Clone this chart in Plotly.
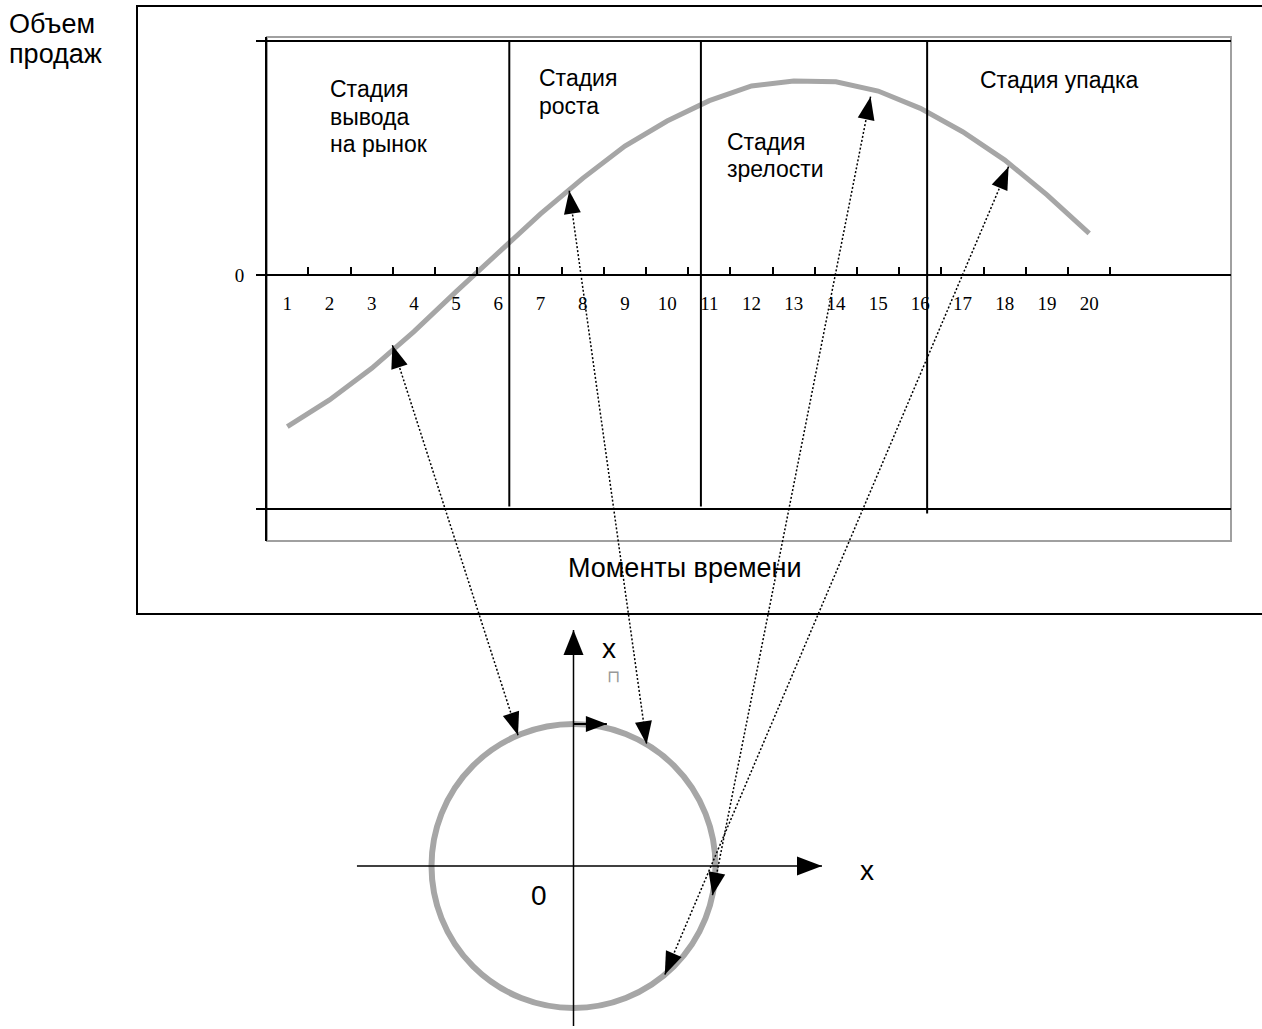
import math
import plotly.graph_objects as go

W, H = 1262, 1029

# ---------------- data ----------------
periods = list(range(1, 21))
sales = [-0.648, -0.534, -0.399, -0.242, -0.071, 0.093, 0.261, 0.413, 0.551, 0.658,
         0.745, 0.808, 0.829, 0.826, 0.786, 0.712, 0.612, 0.491, 0.342, 0.178]
tick_labels = [str(p) for p in periods]
y_tick_vals = [-1, 0, 1]
y_tick_text = ["", "0", ""]

stage_bounds = [6.26, 10.80, 16.16]
stage_bound_bottom = [-0.99, -0.99, -1.02]
stage_lines = [["Стадия", "вывода", "на рынок"], ["Стадия", "роста"],
               ["Стадия", "зрелости"], ["Стадия упадка"]]
stage_text_x = [1.97, 6.91, 11.38, 17.37]
stage_text_y = [0.794, 0.841, 0.570, 0.833]

# links between points on the sales curve and points on the circle
link_curve_x = [3.49, 7.68, 14.82, 18.09]
link_curve_y = [-0.30, 0.36, 0.762, 0.463]
link_circle_deg = [113, 59, -12, -50]

# ---------------- layout geometry ----------------
XD = [267 / W, 1231 / W]
YD = [1 - 541 / H, 1 - 37 / H]
XR = [0.519, 23.36]
YR = [-1.137, 1.017]

CX, CY, CR = 573.5, 866.0, 142.0
X2R = [-CX / CR, (W - CX) / CR]
Y2R = [-(H - CY) / CR, CY / CR]


def top_to_circle(x, y):
    fx = XD[0] + (x - XR[0]) / (XR[1] - XR[0]) * (XD[1] - XD[0])
    fy = YD[0] + (y - YR[0]) / (YR[1] - YR[0]) * (YD[1] - YD[0])
    return X2R[0] + fx * (X2R[1] - X2R[0]), Y2R[0] + fy * (Y2R[1] - Y2R[0])


def head_shape(tip, tail, length_px, width_px):
    """filled triangular arrowhead (x2/y2 units are CR pixels each)"""
    dx, dy = tip[0] - tail[0], tip[1] - tail[1]
    n = math.hypot(dx, dy)
    dx, dy = dx / n, dy / n
    L, Wd = length_px / CR, width_px / CR / 2
    bx, by = tip[0] - L * dx, tip[1] - L * dy
    p1 = (bx - Wd * dy, by + Wd * dx)
    p2 = (bx + Wd * dy, by - Wd * dx)
    path = "M {:.5f},{:.5f} L {:.5f},{:.5f} L {:.5f},{:.5f} Z".format(
        tip[0], tip[1], p1[0], p1[1], p2[0], p2[1])
    return dict(type="path", xref="x2", yref="y2", path=path, fillcolor="black",
                line=dict(width=0), layer="above")


SANS = "Liberation Sans, Arial, sans-serif"
SERIF = "Liberation Serif, Times New Roman, serif"
GRAY = "#a6a6a6"

fig = go.Figure()

# sales curve
fig.add_trace(go.Scatter(x=periods, y=sales, mode="lines",
                         line=dict(color=GRAY, width=5), xaxis="x", yaxis="y",
                         hoverinfo="skip"))

shapes = []


def line_trace(xs, ys, dash, width=1.5):
    return go.Scatter(x=xs, y=ys, mode="lines", xaxis="x2", yaxis="y2",
                      line=dict(color="black", width=width, dash=dash), hoverinfo="skip")


# coordinate axes of the circle diagram
h_axis = ([-1.525, 0], [1.75, 0])
v_axis = ([0, -1.127], [0, 1.662])
rot = ([0, 1.0], [0.235, 1.0])
for (a, b), wd, hl, hw in [(h_axis, 1.5, 25, 19), (v_axis, 1.5, 25, 20), (rot, 2, 21, 16)]:
    fig.add_trace(line_trace([a[0], b[0]], [a[1], b[1]], "solid", wd))
    shapes.append(head_shape(b, a, hl, hw))

# dotted links
for xc, yc, deg in zip(link_curve_x, link_curve_y, link_circle_deg):
    p_curve = top_to_circle(xc, yc)
    p_circ = (math.cos(math.radians(deg)), math.sin(math.radians(deg)))
    fig.add_trace(line_trace([p_curve[0], p_circ[0]], [p_curve[1], p_circ[1]], "2px,2px"))
    shapes.append(head_shape(p_circ, p_curve, 23, 17))
    shapes.append(head_shape(p_curve, p_circ, 23, 17))

# outer frame
shapes.append(dict(type="rect", xref="paper", yref="paper", x0=137 / W, x1=1.02,
                   y0=1 - 614 / H, y1=1 - 6 / H, line=dict(color="black", width=2)))
# plot area frame
shapes.append(dict(type="rect", xref="x domain", yref="y domain", x0=0, x1=1, y0=0, y1=1,
                   line=dict(color="#a0a0a0", width=2), layer="below"))
# stage separators
for xb, yb in zip(stage_bounds, stage_bound_bottom):
    shapes.append(dict(type="line", xref="x", yref="y", x0=xb, x1=xb, y0=1.0, y1=yb,
                       line=dict(color="black", width=2)))
# circle
shapes.append(dict(type="circle", xref="x2", yref="y2", x0=-1, x1=1, y0=-1, y1=1,
                   line=dict(color=GRAY, width=6), layer="below"))

ann = []
TXT = dict(family=SANS, size=23, color="black")
LBL = dict(family=SANS, size=27, color="black")
for lines, tx, ty in zip(stage_lines, stage_text_x, stage_text_y):
    for i, t in enumerate(lines):
        ann.append(dict(x=tx, y=ty - i * 0.1175, xref="x", yref="y", text=t,
                        showarrow=False, xanchor="left", yanchor="middle", font=TXT))
ann.append(dict(x=7 / W, y=1 - 24 / H, xref="paper", yref="paper", text="Объем",
                showarrow=False, xanchor="left", yanchor="middle", font=LBL))
ann.append(dict(x=7 / W, y=1 - 54 / H, xref="paper", yref="paper", text="продаж",
                showarrow=False, xanchor="left", yanchor="middle", font=LBL))
ann.append(dict(x=685 / W, y=1 - 568 / H, xref="paper", yref="paper", text="Моменты времени",
                showarrow=False, xanchor="center", yanchor="middle", font=LBL))
# circle diagram labels
BIG = dict(family=SANS, size=28, color="black")
ann.append(dict(x=0.25, y=1.535, xref="x2", yref="y2", text="x", showarrow=False,
                xanchor="center", yanchor="middle", font=BIG))
ann.append(dict(x=0.28, y=1.34, xref="x2", yref="y2", text="⊓", showarrow=False,
                xanchor="center", yanchor="middle",
                font=dict(family="DejaVu Sans", size=17, color="#999999")))
ann.append(dict(x=2.07, y=-0.03, xref="x2", yref="y2", text="x", showarrow=False,
                xanchor="center", yanchor="middle", font=BIG))
ann.append(dict(x=-0.24, y=-0.21, xref="x2", yref="y2", text="0", showarrow=False,
                xanchor="center", yanchor="middle", font=BIG))

fig.update_layout(
    width=W, height=H, margin=dict(l=0, r=0, t=0, b=0),
    paper_bgcolor="white", plot_bgcolor="rgba(0,0,0,0)", showlegend=False,
    xaxis=dict(domain=XD, range=XR, anchor="free", position=1 - 275 / H,
               tickmode="array", tickvals=periods, ticktext=tick_labels, ticks="",
               ticklabelstandoff=11,
               tickfont=dict(family=SERIF, size=19, color="black"),
               showline=True, linecolor="black", linewidth=2, showgrid=False, zeroline=False,
               minor=dict(tickmode="array", tickvals=[p + 0.5 for p in periods],
                          ticks="inside", ticklen=7, tickwidth=1.5, tickcolor="black",
                          showgrid=False),
               fixedrange=True),
    yaxis=dict(domain=YD, range=YR, anchor="x", tickmode="array", tickvals=y_tick_vals,
               ticktext=y_tick_text, ticks="outside", ticklen=9, tickwidth=1.5,
               tickcolor="black", tickfont=dict(family=SERIF, size=19, color="black"),
               ticklabelstandoff=8,
               showline=True, linecolor="black", linewidth=2, showgrid=True,
               gridcolor="black", gridwidth=2, zeroline=False, fixedrange=True),
    xaxis2=dict(domain=[0, 1], range=X2R, anchor="y2", visible=False, fixedrange=True),
    yaxis2=dict(domain=[0, 1], range=Y2R, anchor="x2", visible=False, fixedrange=True),
    shapes=shapes, annotations=ann,
)

fig.write_html("out.html", config={"displayModeBar": False},
               post_script="document.body.style.margin='0px';document.body.style.overflow='hidden';")
